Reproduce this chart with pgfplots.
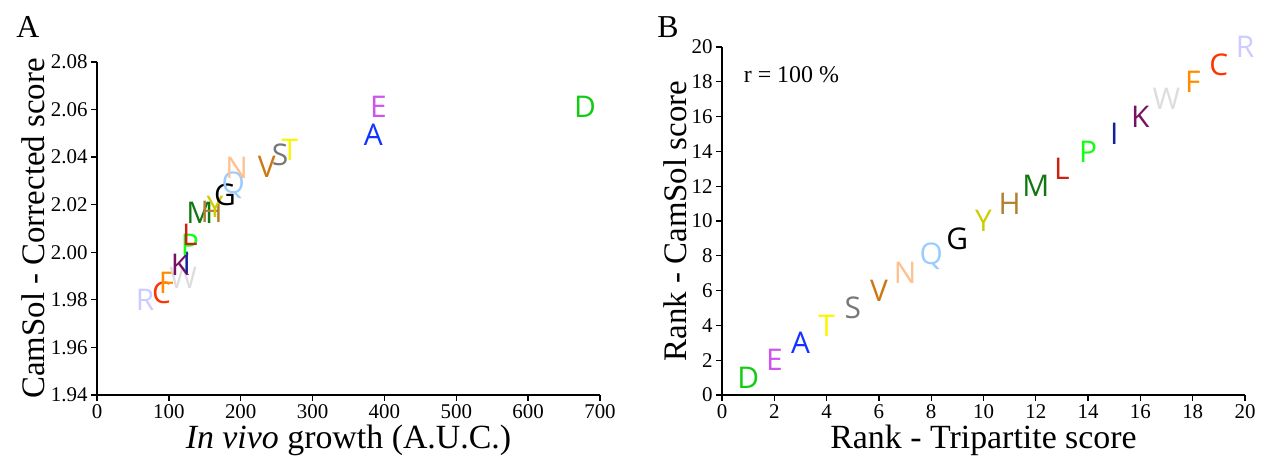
\documentclass[border=0pt]{standalone}
\usepackage{fontspec}
\setmainfont{Liberation Serif}
\newfontfamily\letterfont{Open Sans}
\usepackage{pgfplots}
\pgfplotsset{compat=1.18}
\usepackage{pgfplotstable}

\definecolor{cD}{RGB}{17,204,17}
\definecolor{cE}{RGB}{204,85,238}
\definecolor{cA}{RGB}{17,51,255}
\definecolor{cT}{RGB}{250,245,0}
\definecolor{cS}{RGB}{119,119,119}
\definecolor{cV}{RGB}{204,119,17}
\definecolor{cN}{RGB}{255,192,144}
\definecolor{cQ}{RGB}{153,204,255}
\definecolor{cG}{RGB}{0,0,0}
\definecolor{cY}{RGB}{204,204,0}
\definecolor{cH}{RGB}{176,128,48}
\definecolor{cM}{RGB}{17,119,17}
\definecolor{cL}{RGB}{204,34,17}
\definecolor{cP}{RGB}{17,255,17}
\definecolor{cI}{RGB}{17,34,153}
\definecolor{cK}{RGB}{119,17,102}
\definecolor{cW}{RGB}{221,221,221}
\definecolor{cF}{RGB}{255,140,0}
\definecolor{cC}{RGB}{255,51,0}
\definecolor{cR}{RGB}{204,204,255}

\pgfplotstableread{
lab x y
R 66.8 1.9799
C 90.0 1.9828
F 97.0 1.9870
W 120.1 1.9891
K 115.5 1.9947
I 124.8 1.9954
P 129.4 2.0031
L 129.4 2.0073
M 143.3 2.0164
H 159.6 2.0171
Y 164.2 2.0192
G 178.1 2.0241
Q 189.7 2.0283
N 194.4 2.0353
V 236.2 2.0360
S 254.7 2.0409
T 268.6 2.0430
A 384.5 2.0493
E 391.5 2.0612
D 679.2 2.0612
}\dataA

\pgfplotstableread{
lab x y
D 1 1
E 2 2
A 3 3
T 4 4
S 5 5
V 6 6
N 7 7
Q 8 8
G 9 9
Y 10 10
H 11 11
M 12 12
L 13 13
P 14 14
I 15 15
K 16 16
W 17 17
F 18 18
C 19 19
R 20 20
}\dataB

\pgfplotsset{mystyle/.style={
  scale only axis,
  axis x line*=bottom, axis y line*=left,
  axis line style={line width=1.3bp, -},
  every tick/.style={line width=1.3bp, black},
  tick align=outside,
  major tick length=6bp,
  tick label style={font=\fontsize{21}{21}\selectfont},
  xlabel style={font=\fontsize{34}{34}\selectfont},
  ylabel style={font=\fontsize{33}{33}\selectfont},
  /pgf/number format/assume math mode=true,
  clip=false,
}}
\pgfplotsset{letters/.style={only marks, mark=text, text mark={},
  point meta=explicit symbolic,
  nodes near coords={\textcolor{c\pgfplotspointmeta}{\pgfplotspointmeta}},
  nodes near coords align={center},
  every node near coord/.append style={font=\letterfont\fontsize{30}{30}\selectfont, inner sep=0pt}}}

\begin{document}
\begin{tikzpicture}[x=1bp,y=1bp]
\path[use as bounding box] (0,0) rectangle (1261,459);
\begin{axis}[mystyle,
  at={(97bp,64bp)}, anchor=south west,
  width=503bp, height=333bp,
  xmin=0, xmax=700, ymin=1.94, ymax=2.08,
  xtick={0,100,...,700},
  ytick={1.94,1.96,1.98,2.00,2.02,2.04,2.06,2.08},
  yticklabel style={/pgf/number format/.cd, fixed, fixed zerofill, precision=2},
  xlabel={\textit{In vivo} growth (A.U.C.)},
  ylabel={CamSol - Corrected score},
  ylabel style={yshift=-1bp},
]
\addplot[letters] table[x=x, y=y, meta=lab]{\dataA};
\end{axis}

\begin{axis}[mystyle,
  at={(722bp,64bp)}, anchor=south west,
  width=523bp, height=348bp,
  xmin=0, xmax=20, ymin=0, ymax=20,
  xtick={0,2,...,20}, ytick={0,2,...,20},
  xlabel={Rank - Tripartite score},
  ylabel={Rank - CamSol score},
  ylabel style={yshift=-2bp},
]
\addplot[letters] table[x=x, y=y, meta=lab]{\dataB};
\node[anchor=west, font=\fontsize{24}{24}\selectfont] at (axis cs:0.7,18.4) {r = 100 \%};
\end{axis}

\node[font=\fontsize{32}{32}\selectfont] at (28,432) {A};
\node[font=\fontsize{32}{32}\selectfont] at (668,432) {B};
\end{tikzpicture}
\end{document}
